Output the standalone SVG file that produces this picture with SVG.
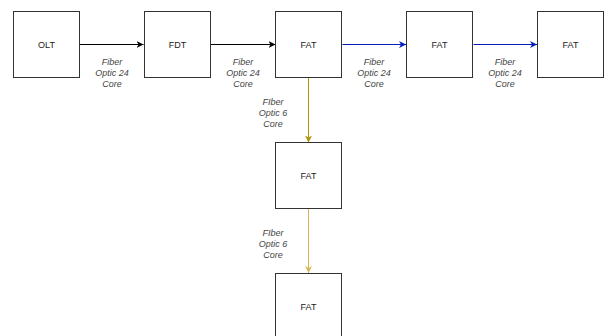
<svg xmlns="http://www.w3.org/2000/svg" width="605" height="336" viewBox="0 0 605 336">
<style>
.box{fill:#fff;stroke:#333;stroke-width:1}
.nt{font-family:"Liberation Sans",Arial,sans-serif;font-size:9px;fill:#222;text-anchor:middle;dominant-baseline:central}
.lb{font-family:"Liberation Sans",Arial,sans-serif;font-size:9px;font-style:italic;fill:#444;text-anchor:middle}
.k{stroke:#000;stroke-width:1;fill:none}
.b{stroke:#001DBC;stroke-width:1;fill:none}
.g1{stroke:#B09500;stroke-width:1;fill:none}
.g2{stroke:#D6B656;stroke-width:1;fill:none}
</style>
<defs>
<marker id="ak" markerWidth="8" markerHeight="8" refX="7" refY="4" orient="auto" markerUnits="userSpaceOnUse"><path d="M0,0.5 L7,4 L0,7.5 L2,4 Z" fill="#000"/></marker>
<marker id="ab" markerWidth="8" markerHeight="8" refX="7" refY="4" orient="auto" markerUnits="userSpaceOnUse"><path d="M0,0.5 L7,4 L0,7.5 L2,4 Z" fill="#001DBC"/></marker>
<marker id="ag1" markerWidth="8" markerHeight="8" refX="7" refY="4" orient="auto" markerUnits="userSpaceOnUse"><path d="M0,0.5 L7,4 L0,7.5 L2,4 Z" fill="#B09500"/></marker>
<marker id="ag2" markerWidth="8" markerHeight="8" refX="7" refY="4" orient="auto" markerUnits="userSpaceOnUse"><path d="M0,0.5 L7,4 L0,7.5 L2,4 Z" fill="#D6B656"/></marker>
</defs>
<rect width="605" height="336" fill="#fff"/>
<g id="connectors">
<line class="k" x1="79.5" y1="44.5" x2="143.5" y2="44.5" marker-end="url(#ak)"/>
<line class="k" x1="210.5" y1="44.5" x2="275.5" y2="44.5" marker-end="url(#ak)"/>
<line class="b" x1="342.5" y1="44.5" x2="406" y2="44.5" marker-end="url(#ab)"/>
<line class="b" x1="473.5" y1="44.5" x2="537" y2="44.5" marker-end="url(#ab)"/>
<line class="g1" x1="308.5" y1="77.5" x2="308.5" y2="142.5" marker-end="url(#ag1)"/>
<line class="g2" x1="308.5" y1="208.5" x2="308.5" y2="273" marker-end="url(#ag2)"/>
<text class="lb" x="112" y="65"><tspan x="112">Fiber</tspan><tspan x="112" dy="11">Optic 24</tspan><tspan x="112" dy="11">Core</tspan></text>
<text class="lb" x="243" y="65"><tspan x="243">Fiber</tspan><tspan x="243" dy="11">Optic 24</tspan><tspan x="243" dy="11">Core</tspan></text>
<text class="lb" x="374" y="65"><tspan x="374">Fiber</tspan><tspan x="374" dy="11">Optic 24</tspan><tspan x="374" dy="11">Core</tspan></text>
<text class="lb" x="505" y="65"><tspan x="505">Fiber</tspan><tspan x="505" dy="11">Optic 24</tspan><tspan x="505" dy="11">Core</tspan></text>
<text class="lb" x="273" y="105"><tspan x="273">FIber</tspan><tspan x="273" dy="11">Optic 6</tspan><tspan x="273" dy="11">Core</tspan></text>
<text class="lb" x="273" y="236"><tspan x="273">FIber</tspan><tspan x="273" dy="11">Optic 6</tspan><tspan x="273" dy="11">Core</tspan></text>
</g>
<g id="olt"><rect class="box" x="13.5" y="11.5" width="66" height="66"/><text class="nt" x="46.5" y="44.5">OLT</text></g>
<g id="fdt"><rect class="box" x="144.5" y="11.5" width="66" height="66"/><text class="nt" x="177.5" y="44.5">FDT</text></g>
<g id="fat1"><rect class="box" x="275.5" y="11.5" width="66" height="66"/><text class="nt" x="308.5" y="44.5">FAT</text></g>
<g id="fat2"><rect class="box" x="406.5" y="11.5" width="66" height="66"/><text class="nt" x="439.5" y="44.5">FAT</text></g>
<g id="fat3"><rect class="box" x="537.5" y="11.5" width="66" height="66"/><text class="nt" x="570.5" y="44.5">FAT</text></g>
<g id="fat4"><rect class="box" x="275.5" y="142.5" width="66" height="66"/><text class="nt" x="308.5" y="175.5">FAT</text></g>
<g id="fat5"><rect class="box" x="275.5" y="273.5" width="66" height="66"/><text class="nt" x="308.5" y="306.5">FAT</text></g>
</svg>
